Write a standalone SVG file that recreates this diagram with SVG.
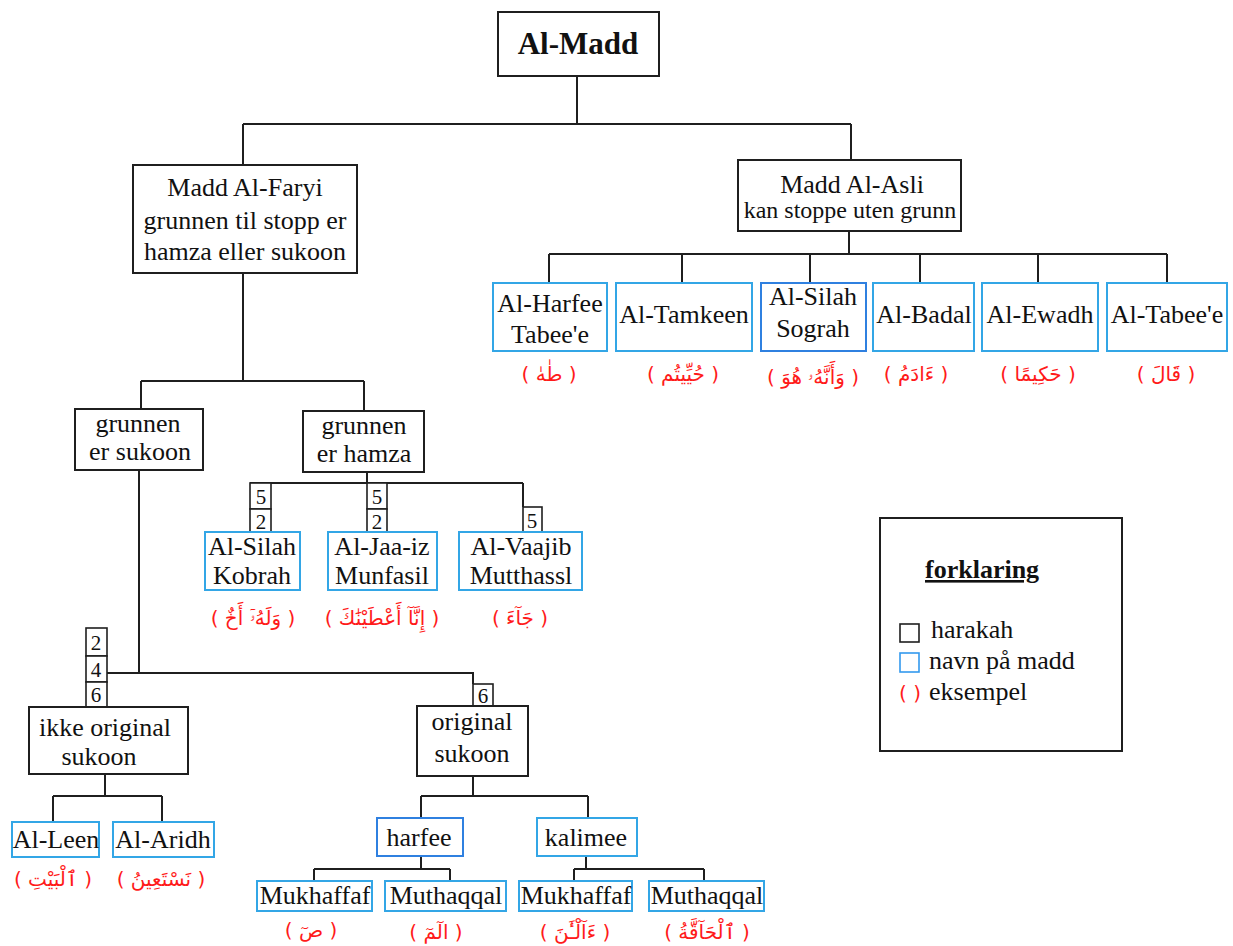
<svg xmlns="http://www.w3.org/2000/svg" width="1233" height="946" viewBox="0 0 1233 946">
<style>
.bg{fill:#fff}
.n{fill:#fff;stroke:#1f1f1f;stroke-width:2}
.b{fill:#fff;stroke:#33a6e6;stroke-width:2}
.b2{fill:#fff;stroke:#2f80e0;stroke-width:2}
.num{fill:#fff;stroke:#1f1f1f;stroke-width:1.6}
.t{font-family:"Liberation Serif","Times New Roman",serif;font-size:26px;fill:#111;text-anchor:middle}
.ts{font-size:24px}
.tn{font-family:"Liberation Serif","Times New Roman",serif;font-size:21px;fill:#111;text-anchor:middle}
.ar{font-family:"DejaVu Sans","Noto Sans",sans-serif;font-size:20px;fill:#ff1a1a;text-anchor:middle}
.lg{font-family:"Liberation Serif","Times New Roman",serif;font-size:26px;fill:#111}
.c{fill:none;stroke:#1f1f1f;stroke-width:2}
</style>
<rect class="bg" x="0" y="0" width="1233" height="946"/>
<g id="connectors" class="c">
<path d="M577,76V124M243,124H851M243,124V165M851,124V160"/>
<path d="M849,231V254M549,254H1167M549,254V283M682,254V283M810,254V283M920,254V283M1038,254V283M1167,254V283"/>
<path d="M243,273V381M141,381H364M141,381V409M364,381V411"/>
<path d="M367,472V483M250,483H523M523,483V507"/>
<path d="M139,470V673M107,673H473V684"/>
<path d="M105,774V796M53,796H162M53,796V822M162,796V822"/>
<path d="M473,776V796M421,796H588M421,796V818M588,796V818"/>
<path d="M421,856V869M314,869H450M314,869V881M450,869V881"/>
<path d="M586,856V869M574,869H704M574,869V881M704,869V881"/>
</g>
<g id="al-madd"><rect class="n" x="498" y="12" width="161" height="64"/><text class="t" x="578" y="54" style="font-weight:bold;font-size:31px">Al-Madd</text></g>
<g id="madd-al-faryi"><rect class="n" x="133" y="165" width="224" height="108"/><text class="t" x="245" y="196">Madd Al-Faryi</text><text class="t" x="245" y="229">grunnen til stopp er</text><text class="t" x="245" y="260">hamza eller sukoon</text></g>
<g id="madd-al-asli"><rect class="n" x="738" y="160" width="223" height="71"/><text class="t" x="852" y="193">Madd Al-Asli</text><text class="t ts" x="850" y="218">kan stoppe uten grunn</text></g>
<g id="al-harfee-tabeee"><rect class="b" x="493" y="283" width="114" height="68"/><text class="t" x="550" y="312">Al-Harfee</text><text class="t" x="550" y="343">Tabee'e</text><text class="ar" x="549" y="381">( طٰهٰ )</text></g>
<g id="al-tamkeen"><rect class="b" x="616" y="283" width="136" height="68"/><text class="t" x="684" y="323">Al-Tamkeen</text><text class="ar" x="683" y="381">( حُيِّيتُم )</text></g>
<g id="al-silah-sograh"><rect class="b2" x="761" y="283" width="105" height="68"/><text class="t" x="813" y="305">Al-Silah</text><text class="t" x="813" y="337">Sograh</text><text class="ar" x="813" y="384">( وَأَنَّهُۥ هُوَ )</text></g>
<g id="al-badal"><rect class="b" x="873" y="283" width="101" height="68"/><text class="t" x="924" y="323">Al-Badal</text><text class="ar" x="916" y="381">( ءَادَمُ )</text></g>
<g id="al-ewadh"><rect class="b" x="982" y="283" width="116" height="68"/><text class="t" x="1040" y="323">Al-Ewadh</text><text class="ar" x="1038" y="381">( حَكِيمًا )</text></g>
<g id="al-tabeee"><rect class="b" x="1107" y="283" width="120" height="68"/><text class="t" x="1167" y="323">Al-Tabee'e</text><text class="ar" x="1166" y="381">( قَالَ )</text></g>
<g id="grunnen-er-sukoon"><rect class="n" x="75" y="409" width="128" height="61"/><text class="t" x="138" y="432">grunnen</text><text class="t" x="140" y="460">er sukoon</text></g>
<g id="grunnen-er-hamza"><rect class="n" x="303" y="411" width="121" height="61"/><text class="t" x="364" y="434">grunnen</text><text class="t" x="364" y="462">er hamza</text></g>
<g id="al-silah-kobrah"><rect class="num" x="250" y="483" width="21" height="26"/><text class="tn" x="261" y="504">5</text><rect class="num" x="250" y="509" width="21" height="23"/><text class="tn" x="261" y="529">2</text><rect class="b" x="205" y="532" width="95" height="58"/><text class="t" x="252" y="555">Al-Silah</text><text class="t" x="252" y="584">Kobrah</text><text class="ar" x="253" y="625">( وَلَهُۥٓ أَخٌ )</text></g>
<g id="al-jaa-iz-munfasil"><rect class="num" x="367" y="483" width="20" height="26"/><text class="tn" x="377" y="504">5</text><rect class="num" x="367" y="509" width="20" height="23"/><text class="tn" x="377" y="529">2</text><rect class="b" x="328" y="532" width="109" height="58"/><text class="t" x="382" y="555">Al-Jaa-iz</text><text class="t" x="382" y="584">Munfasil</text><text class="ar" x="382" y="625">( إِنَّآ أَعْطَيْنَٰكَ )</text></g>
<g id="al-vaajib-mutthassl"><rect class="num" x="523" y="507" width="19" height="25"/><text class="tn" x="532" y="528">5</text><rect class="b" x="459" y="532" width="123" height="58"/><text class="t" x="521" y="555">Al-Vaajib</text><text class="t" x="521" y="584">Mutthassl</text><text class="ar" x="520" y="625">( جَآءَ )</text></g>
<g id="ikke-original-sukoon"><rect class="num" x="86" y="628" width="21" height="28"/><text class="tn" x="96" y="650">2</text><rect class="num" x="86" y="656" width="21" height="26"/><text class="tn" x="96" y="677">4</text><rect class="num" x="86" y="682" width="21" height="25"/><text class="tn" x="96" y="702">6</text><rect class="n" x="29" y="707" width="159" height="67"/><text class="t" x="105" y="736">ikke original</text><text class="t" x="99" y="765">sukoon</text></g>
<g id="original-sukoon"><rect class="num" x="473" y="684" width="20" height="22"/><text class="tn" x="483" y="703">6</text><rect class="n" x="417" y="706" width="111" height="70"/><text class="t" x="472" y="730">original</text><text class="t" x="472" y="762">sukoon</text></g>
<g id="al-leen"><rect class="b" x="12" y="822" width="87" height="35"/><text class="t" x="56" y="848">Al-Leen</text><text class="ar" x="53" y="886">( ٱلْبَيْتِ )</text></g>
<g id="al-aridh"><rect class="b" x="113" y="822" width="101" height="35"/><text class="t" x="163" y="848">Al-Aridh</text><text class="ar" x="161" y="886">( نَسْتَعِينُ )</text></g>
<g id="harfee"><rect class="b2" x="377" y="818" width="86" height="38"/><text class="t" x="419" y="846">harfee</text></g>
<g id="kalimee"><rect class="b" x="537" y="818" width="100" height="38"/><text class="t" x="586" y="846">kalimee</text></g>
<g id="mukhaffaf-harfee"><rect class="b" x="257" y="881" width="115" height="30"/><text class="t" x="315" y="904">Mukhaffaf</text><text class="ar" x="311" y="937">( صٓ )</text></g>
<g id="muthaqqal-harfee"><rect class="b" x="385" y="881" width="121" height="30"/><text class="t" x="446" y="904">Muthaqqal</text><text class="ar" x="436" y="939">( الٓمٓ )</text></g>
<g id="mukhaffaf-kalimee"><rect class="b" x="519" y="881" width="113" height="30"/><text class="t" x="576" y="904">Mukhaffaf</text><text class="ar" x="575" y="939">( ءَآلْـَٰٔنَ )</text></g>
<g id="muthaqqal-kalimee"><rect class="b" x="649" y="881" width="115" height="30"/><text class="t" x="707" y="904">Muthaqqal</text><text class="ar" x="707" y="939">( ٱلْحَآقَّةُ )</text></g>
<g id="legend">
<rect class="n" x="880" y="518" width="242" height="233"/>
<text class="lg" x="925" y="578" style="font-weight:bold;text-decoration:underline">forklaring</text>
<rect x="900" y="624" width="19" height="18" fill="#fff" stroke="#1f1f1f" stroke-width="1.6"/>
<text class="lg" x="931" y="638">harakah</text>
<rect x="900" y="653" width="19" height="19" fill="#fff" stroke="#3399ee" stroke-width="1.6"/>
<text class="lg" x="929" y="669">navn på madd</text>
<text class="ar" x="910" y="700" style="font-size:20px">( )</text>
<text class="lg" x="929" y="700">eksempel</text>
</g>
</svg>
